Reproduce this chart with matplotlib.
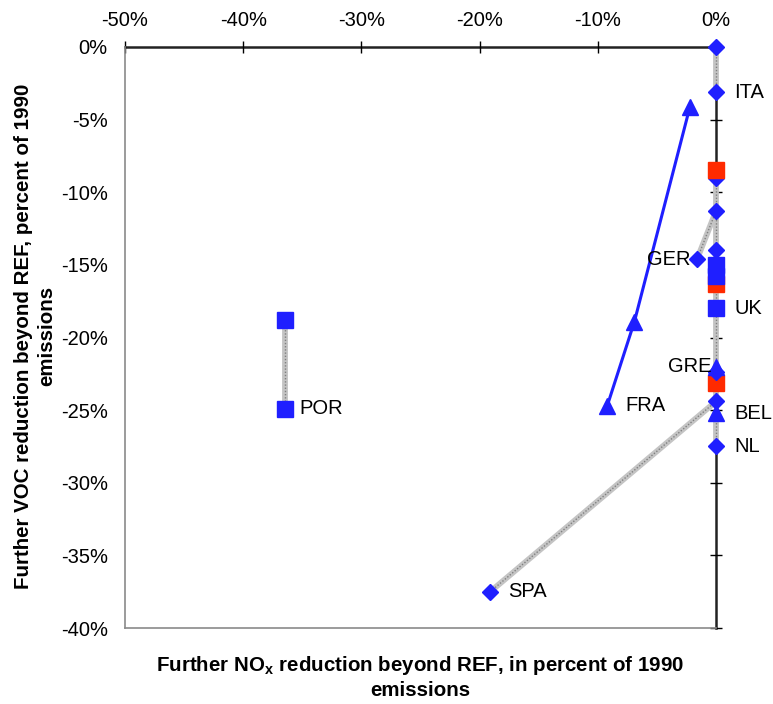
import matplotlib
matplotlib.use("Agg")
import matplotlib.pyplot as plt

plt.rcParams["font.family"] = ["Liberation Sans", "DejaVu Sans"]
plt.rcParams["mathtext.fontset"] = "custom"
plt.rcParams["mathtext.rm"] = "Liberation Sans"
plt.rcParams["mathtext.bf"] = "Liberation Sans:bold"

# Further reductions beyond REF, percent of 1990 emissions (NOx, VOC)
# Grey connectors between scenario points of each country
connectors = [
    ([0.0, 0.0], [0.0, -3.1]),            # ITA
    ([0.0, 0.0, 0.0], [-9.0, -11.3, -14.0]),
    ([0.0, -1.6], [-11.3, -14.6]),        # GER
    ([0.0, 0.0], [-14.0, -16.3]),
    ([0.0, 0.0, 0.0], [-16.3, -18.0, -22.2]),  # UK
    ([0.0, 0.0], [-23.1, -24.4]),
    ([0.0, -19.1], [-24.4, -37.5]),       # SPA
    ([0.0, 0.0], [-25.2, -27.5]),         # BEL / NL
    ([-36.5, -36.5], [-18.8, -24.9]),     # POR
]

# FRA path (blue line with triangles)
fra_x = [-2.2, -6.9, -9.2]
fra_y = [-4.1, -18.9, -24.7]

diam_under_x = [0.0]
diam_under_y = [-9.0]
diam_x = [0.0, 0.0, 0.0, 0.0, -1.6, 0.0, 0.0, 0.0, -19.1]
diam_y = [0.0, -3.1, -11.3, -14.0, -14.6, -22.4, -24.4, -27.5, -37.5]

red_sq_x = [0.0, 0.0, 0.0]
red_sq_y = [-8.5, -16.3, -23.1]

blue_sq_x = [0.0, 0.0, 0.0, -36.5, -36.5]
blue_sq_y = [-15.0, -15.8, -18.0, -18.8, -24.9]

tri_x = [0.0, 0.0]
tri_y = [-22.0, -25.2]

# Country labels: text, anchor point, offset in points, alignment
labels = ["ITA", "GER", "UK", "GRE", "FRA", "BEL", "NL", "POR", "SPA"]
label_x = [0.0, -1.6, 0.0, 0.0, -9.2, 0.0, 0.0, -36.5, -19.1]
label_y = [-3.1, -14.6, -18.0, -22.0, -24.7, -25.2, -27.5, -24.9, -37.5]
label_dx = [13, -5, 13, -3, 13, 13, 13, 11, 13]
label_ha = ["left", "right", "left", "right", "left", "left", "left", "left", "left"]

x_ticks = [-50, -40, -30, -20, -10, 0]
y_ticks = [0, -5, -10, -15, -20, -25, -30, -35, -40]

BLUE = "#1f1fff"
RED = "#ff2a00"

fig = plt.figure(figsize=(7.73, 7.04), dpi=100)
ax = fig.add_axes([125 / 773, 1 - 628 / 704, (716 - 125) / 773, (628 - 47) / 704])

for xs, ys in connectors:
    ax.plot(xs, ys, color="#c4c4c4", lw=4.2, solid_capstyle="butt", zorder=2, clip_on=False)
    ax.plot(xs, ys, color="#808080", lw=1.0, ls=(0, (1, 1.3)), zorder=2, clip_on=False)

ax.plot(fra_x, fra_y, color=BLUE, lw=2.2, marker="^", ms=12, mec=BLUE, mfc=BLUE,
        zorder=5, clip_on=False)

ms_d = 8.6
ms_s = 11
ax.plot(diam_under_x, diam_under_y, "D", color=BLUE, ms=ms_d, zorder=3, ls="none", clip_on=False)
ax.plot(red_sq_x, red_sq_y, "s", color=RED, ms=ms_s, zorder=4, ls="none", clip_on=False)
ax.plot(blue_sq_x, blue_sq_y, "s", color=BLUE, ms=ms_s, zorder=5, ls="none", clip_on=False)
ax.plot(diam_x, diam_y, "D", color=BLUE, ms=ms_d, zorder=5, ls="none", clip_on=False)
ax.plot(tri_x, tri_y, "^", color=BLUE, ms=12, zorder=5, ls="none", clip_on=False)

for t, x, y, dx, ha in zip(labels, label_x, label_y, label_dx, label_ha):
    ax.annotate(t, (x, y), xytext=(dx, 0), textcoords="offset points",
                ha=ha, va="center", fontsize=14.5, color="black", zorder=6)

ax.set_xlim(-50, 0)
ax.set_ylim(-40, 0)
ax.set_xticks(x_ticks)
ax.set_xticklabels([f"{v}%" for v in x_ticks])
ax.set_yticks(y_ticks)
ax.set_yticklabels([f"{v}%" for v in y_ticks])

ax.xaxis.tick_top()
ax.tick_params(axis="x", top=True, bottom=False, direction="inout", length=9,
               width=1, colors="black", labelsize=14.5, pad=8)
ax.tick_params(axis="y", left=False, right=True, labelleft=True, labelright=False,
               direction="inout", length=9, width=1, colors="black", labelsize=14.5, pad=8)

for side in ("left", "bottom"):
    ax.spines[side].set_color("#8a8a8a")
    ax.spines[side].set_linewidth(1.2)
for side in ("top", "right"):
    ax.spines[side].set_color("#222222")
    ax.spines[side].set_linewidth(1.8)
    ax.spines[side].set_zorder(1)

fig.text(420 / 773, 1 - 677 / 704,
         "Further NO$_\\mathbf{x}$ reduction beyond REF, in percent of 1990\nemissions",
         ha="center", va="center", fontsize=14.8, fontweight="bold", linespacing=1.3)
fig.text(35 / 773, 1 - 336 / 704,
         "Further VOC reduction beyond REF, percent of 1990\nemissions",
         ha="center", va="center", rotation=90, fontsize=14.8, fontweight="bold",
         linespacing=1.3)

fig.savefig("out.png", dpi=100)
